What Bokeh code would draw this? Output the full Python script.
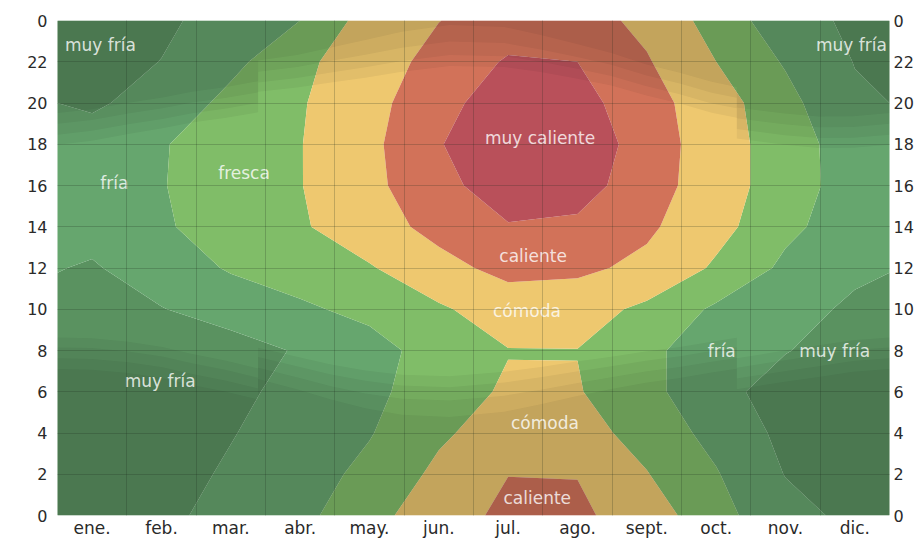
import numpy as np
from bokeh.plotting import figure
from bokeh.models import FixedTicker, LinearAxis, Range1d
from bokeh.core.properties import value
from bokeh.embed import file_html
from bokeh.resources import INLINE

# ---------------- data ----------------
months = ["ene.", "feb.", "mar.", "abr.", "may.", "jun.", "jul.", "ago.", "sept.", "oct.", "nov.", "dic."]
hours = [0, 2, 4, 6, 8, 10, 12, 14, 16, 18, 20, 22, 24]
hour_labels = ["0", "2", "4", "6", "8", "10", "12", "14", "16", "18", "20", "22", "0"]

# average temperature (°C) at mid-month, one list per hour of day
t_h00 = [3.5, 5.8, 8.8, 11.7, 16.3, 21.0, 25.5, 25.3, 20.5, 14.9, 9.1, 5.5]
t_h02 = [3.0, 4.7, 7.8, 10.8, 14.3, 19.1, 23.9, 23.8, 18.2, 13.4, 6.8, 5.0]
t_h04 = [2.5, 3.6, 6.7, 9.8, 12.7, 17.2, 20.5, 19.8, 16.3, 11.3, 5.5, 4.2]
t_h06 = [2.2, 3.0, 5.7, 8.7, 11.8, 15.6, 18.7, 18.3, 14.8, 8.5, 5.0, 3.8]
t_h08 = [1.8, 2.6, 4.8, 7.5, 10.8, 15.5, 17.8, 17.9, 14.0, 10.5, 7.2, 5.0]
t_h10 = [5.5, 6.8, 9.3, 12.1, 14.5, 17.2, 21.0, 20.4, 16.8, 12.2, 8.7, 6.2]
t_h12 = [6.5, 9.7, 13.6, 15.6, 17.5, 22.3, 25.6, 25.2, 22.6, 17.2, 12.0, 7.9]
t_h14 = [8.8, 12.5, 14.9, 17.3, 21.7, 25.6, 28.7, 28.2, 25.0, 19.8, 14.1, 10.5]
t_h16 = [9.8, 12.8, 15.3, 17.8, 22.7, 27.6, 31.5, 30.8, 26.6, 20.8, 15.1, 11.0]
t_h18 = [10.0, 12.7, 15.2, 17.8, 22.8, 28.7, 33.0, 31.8, 27.1, 20.8, 15.1, 10.8]
t_h20 = [6.0, 9.7, 14.4, 17.5, 22.3, 27.5, 31.5, 30.5, 26.5, 20.2, 14.7, 8.0]
t_h22 = [5.0, 7.1, 11.7, 16.7, 21.3, 25.8, 29.5, 29.0, 24.5, 18.0, 12.5, 6.8]
t_h24 = [4.0, 6.0, 9.2, 13.0, 20.2, 23.9, 26.5, 26.5, 22.5, 15.7, 10.3, 5.5]

# temperature bands (°C) and their names
band_edges = [-40, 7, 13, 18, 24, 29, 50]
band_names = ["muy fría", "fría", "fresca", "cómoda", "caliente", "muy caliente"]
band_colors = ["#5a9260", "#66a66e", "#80bd68", "#eec86f", "#d27259", "#b9505a"]

# sun (local time, hours) on given days of the year, with DST jumps
sun_day = [0, 15, 31, 46, 59, 74, 88, 88, 105, 120, 135, 151, 172, 196, 212, 227, 243, 258, 273, 287, 298, 298, 319, 334, 349, 365]
sunrise = [8.63, 8.60, 8.42, 8.17, 7.83, 7.50, 7.13, 8.13, 7.70, 7.32, 7.03, 6.82, 6.75, 6.97, 7.20, 7.45, 7.70, 7.95, 8.17, 8.43, 8.62, 7.62, 8.00, 8.25, 8.50, 8.63]
sunset = [17.98, 18.17, 18.50, 18.77, 19.05, 19.28, 19.55, 20.55, 20.75, 21.00, 21.23, 21.52, 21.80, 21.75, 21.50, 21.20, 20.85, 20.37, 19.97, 19.53, 19.28, 18.28, 17.97, 17.82, 17.83, 17.98]
civil_tw = [0.48, 0.48, 0.47, 0.46, 0.45, 0.45, 0.45, 0.45, 0.46, 0.48, 0.50, 0.52, 0.53, 0.52, 0.50, 0.48, 0.46, 0.45, 0.45, 0.45, 0.46, 0.46, 0.47, 0.48, 0.48, 0.48]
nautical_tw = [0.53, 0.53, 0.52, 0.52, 0.52, 0.52, 0.52, 0.52, 0.54, 0.57, 0.61, 0.64, 0.65, 0.64, 0.60, 0.57, 0.54, 0.52, 0.52, 0.52, 0.52, 0.52, 0.53, 0.53, 0.53, 0.53]
astro_tw = [0.52, 0.52, 0.52, 0.52, 0.53, 0.53, 0.54, 0.54, 0.58, 0.64, 0.72, 0.78, 0.80, 0.78, 0.70, 0.63, 0.57, 0.54, 0.53, 0.53, 0.52, 0.52, 0.52, 0.52, 0.52, 0.52]

# labels written inside the chart
label_text = ["muy fría", "muy fría", "fría", "fresca", "muy caliente", "caliente", "cómoda",
              "fría", "muy fría", "muy fría", "cómoda", "caliente"]
label_month = [0.62, 11.45, 0.82, 2.69, 6.96, 6.86, 6.77, 9.58, 11.21, 1.48, 7.03, 6.92]
label_hour = [22.8, 22.8, 16.1, 16.6, 18.3, 12.6, 9.9, 8.0, 8.0, 6.5, 4.5, 0.87]

# ---------------- figure ----------------
p = figure(width=916, height=540, output_backend="svg", toolbar_location=None,
           x_range=Range1d(0, 12), y_range=Range1d(0, 24),
           min_border_left=57, min_border_top=20, min_border_right=26, min_border_bottom=22)
p.background_fill_color = "white"
p.border_fill_color = "white"
p.outline_line_color = None

# temperature field (wrap around the year at both ends)
z = np.array([t_h00, t_h02, t_h04, t_h06, t_h08, t_h10, t_h12, t_h14, t_h16, t_h18, t_h20, t_h22, t_h24])
z = np.hstack([z[:, -1:], z, z[:, :1]])
xs = np.arange(-0.5, 13.0, 1.0)
ys = np.array(hours, dtype=float)
p.contour(xs, ys, z, levels=band_edges, fill_color=band_colors)

# night and twilight shading
sx = np.array(sun_day) / 365.0 * 12.0
sr = np.array(sunrise)
ss = np.array(sunset)
c = np.array(civil_tw)
n = np.array(nautical_tw)
a = np.array(astro_tw)
offsets = [np.zeros_like(sr), c, c + n, c + n + a]
for off in offsets:
    p.varea(x=sx, y1=0, y2=sr - off, fill_color="#0b1a10", fill_alpha=0.05)
    p.varea(x=sx, y1=ss + off, y2=24, fill_color="#0b1a10", fill_alpha=0.05)

# labels
p.text(x=label_month, y=label_hour, text=label_text, text_align="center", text_baseline="middle",
       text_font=value("DejaVu Sans"), text_font_size="17px", text_color="white", text_alpha=0.8)

# grid
p.xgrid.ticker = FixedTicker(ticks=list(range(1, 12)))
p.ygrid.ticker = FixedTicker(ticks=hours[1:-1])
for g in (p.xgrid[0], p.ygrid[0]):
    g.grid_line_color = "#1a2a1a"
    g.grid_line_alpha = 0.22
    g.grid_line_width = 1
    g.level = "overlay"

# axes
def style_axis(ax):
    ax.axis_line_color = None
    ax.major_tick_line_color = None
    ax.minor_tick_line_color = None
    ax.major_tick_out = 0
    ax.major_tick_in = 0
    ax.minor_tick_out = 0
    ax.minor_tick_in = 0
    ax.major_label_text_font = "DejaVu Sans"
    ax.major_label_text_font_size = "16px"
    ax.major_label_text_color = "#2a2a2a"

p.xaxis.ticker = FixedTicker(ticks=[i + 0.5 for i in range(12)])
p.xaxis.major_label_overrides = {i + 0.5: m for i, m in enumerate(months)}
p.xaxis.major_label_standoff = 2
style_axis(p.xaxis[0])
p.xaxis.major_label_text_font_size = "17px"

p.yaxis.ticker = FixedTicker(ticks=hours)
p.yaxis.major_label_overrides = {h: l for h, l in zip(hours, hour_labels)}
p.yaxis.major_label_standoff = 10
style_axis(p.yaxis[0])

ry = LinearAxis(ticker=FixedTicker(ticks=hours),
                major_label_overrides={h: l for h, l in zip(hours, hour_labels)},
                major_label_standoff=4)
style_axis(ry)
p.add_layout(ry, "right")

open("out.html", "w").write(file_html(p, INLINE))
